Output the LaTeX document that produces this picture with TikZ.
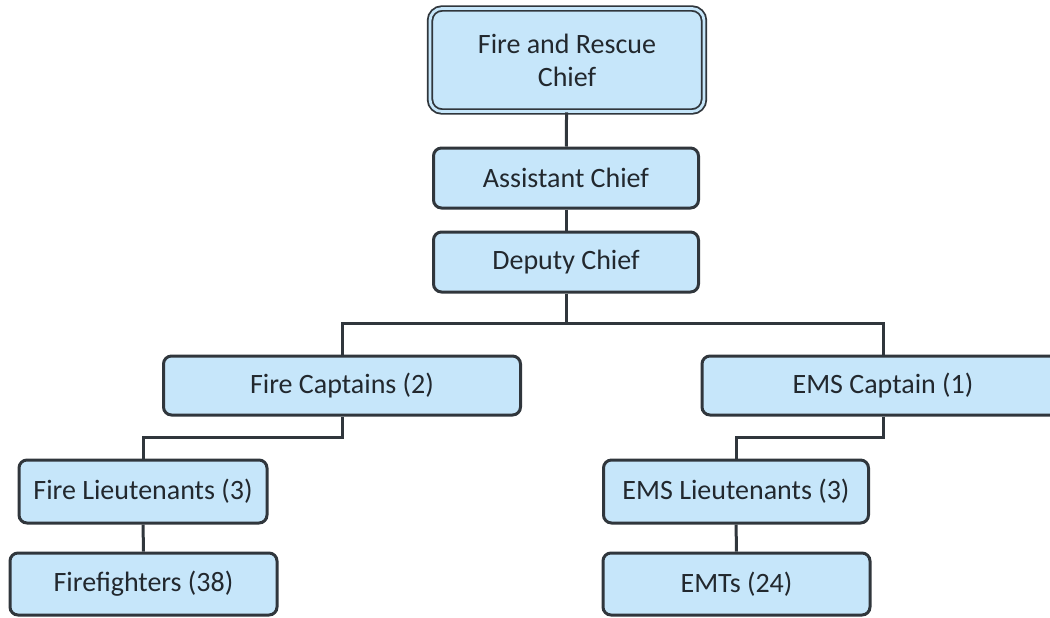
\documentclass[tikz,border=0pt]{standalone}
\usepackage{fontspec}
\setmainfont{Carlito}
\usetikzlibrary{calc}
\definecolor{boxfill}{RGB}{198,230,250}
\definecolor{boxline}{RGB}{48,54,60}
\definecolor{boxtext}{RGB}{34,40,46}
\tikzset{
  rolebox/.style={draw=boxline, fill=boxfill, line width=1.5pt, rounded corners=4pt,
    text=boxtext, font=\fontsize{14}{16.5}\selectfont, align=center, inner sep=0pt},
  headbox/.style={rolebox, double=boxfill, double distance=1.4pt, line width=0.9pt, rounded corners=6pt},
  boxdims/.style 2 args={minimum width=#1*0.5pt, minimum height=#2*0.5pt},
  conn/.style={draw=boxline, line width=1.5pt},
}

\begin{document}
\begin{tikzpicture}[x=0.5pt, y=-0.5pt]
  \useasboundingbox (0,0) rectangle (1050,617);
  \clip (0,0) rectangle (1050,617);
  % top of the chain
  \node[headbox, boxdims={274}{103}] (chief) at (567,60) {Fire and Rescue\\Chief};
  \node[rolebox, boxdims={265}{60}] (asst) at (566,178) {Assistant Chief};
  \node[rolebox, boxdims={265}{60}] (deputy) at (566,262) {Deputy Chief};
  % captains
  \node[rolebox, boxdims={357}{59}] (firecap) at (342,385.5) {Fire Captains (2)};
  \node[rolebox, boxdims={362}{59}] (emscap) at (883,385.5) {EMS Captain (1)};
  % lieutenants and crews
  \node[rolebox, boxdims={248}{63}] (firelt) at (143,491.5) {Fire Lieutenants (3)};
  \node[rolebox, boxdims={267}{62}] (crew) at (143.5,584) {Firefighters (38)};
  \node[rolebox, boxdims={265}{63}] (emslt) at (736,491.5) {EMS Lieutenants (3)};
  \node[rolebox, boxdims={267}{62}] (emts) at (736.5,584) {EMTs (24)};
  \coordinate (split) at (566,323);
  % connectors
  \draw[conn] (chief) -- (asst);
  \draw[conn] (asst) -- (deputy);
  \draw[conn] (deputy) -- (split);
  \draw[conn] (firecap.north) |- (split) -| (emscap.north);
  \draw[conn] (firecap.south) |- ($(firecap.south)!.5!(firelt.north)$) -| (firelt.north);
  \draw[conn] (emscap.south) |- ($(emscap.south)!.5!(emslt.north)$) -| (emslt.north);
  \draw[conn] (firelt) -- (crew);
  \draw[conn] (emslt) -- (emts);
\end{tikzpicture}
\end{document}
